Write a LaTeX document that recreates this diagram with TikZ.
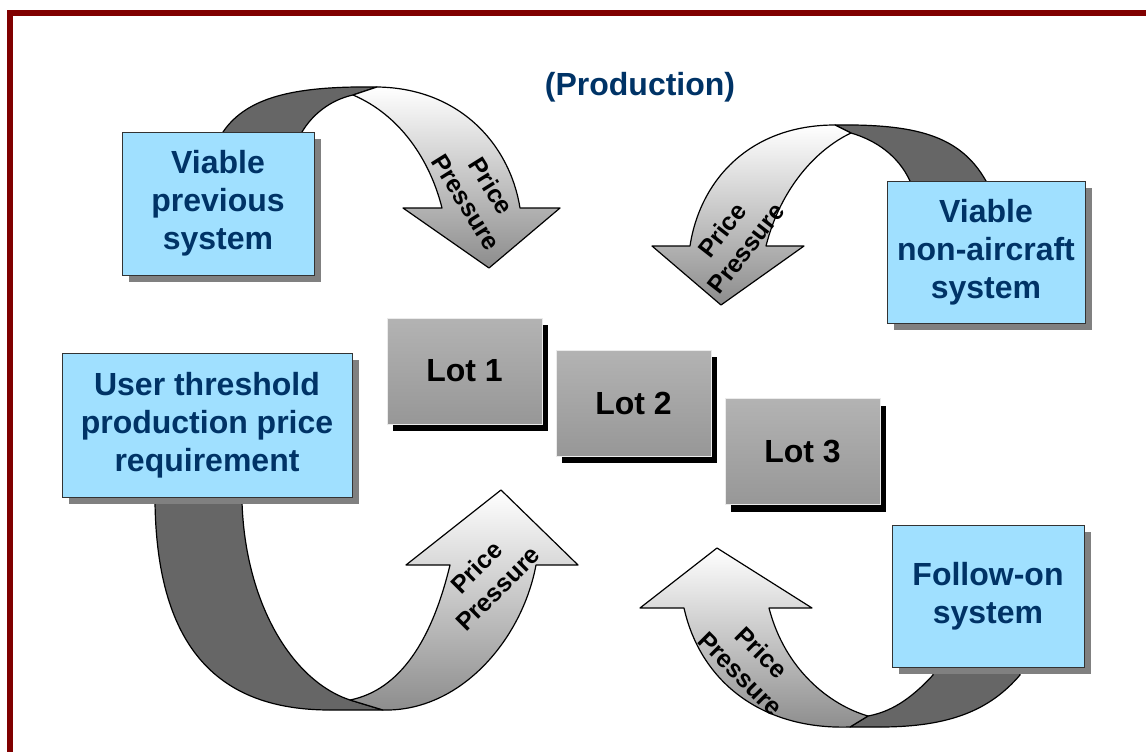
\documentclass[tikz,border=0pt]{standalone}
\usepackage{fontspec}
\setmainfont{Liberation Sans}
\usetikzlibrary{shadows}
\definecolor{framered}{HTML}{800000}
\definecolor{boxblue}{HTML}{A0E0FF}
\definecolor{navy}{HTML}{003366}
\definecolor{ribbondark}{HTML}{666666}
\definecolor{lottop}{HTML}{B3B3B3}
\definecolor{lotbot}{HTML}{979797}
\begin{document}
\begin{tikzpicture}[x=1pt,y=-1pt,
		infobox/.style={
			draw=black!80,
			fill=boxblue,
			line width=1pt,
			text=navy,
			align=center,
			inner sep=0pt,
			font=\bfseries\fontsize{32}{38}\selectfont,
			drop shadow={shadow xshift=7pt, shadow yshift=-7pt, fill=black!50, opacity=1},
		},
		lotbox/.style={
			draw=black!8,
			top color=lottop,
			bottom color=lotbot,
			minimum width=155pt,
			minimum height=106pt,
			inner sep=0pt,
			font=\bfseries\fontsize{32}{38}\selectfont,
			drop shadow={shadow xshift=6pt, shadow yshift=-7pt, fill=black, opacity=1},
		},
		back/.style={fill=ribbondark, draw=black, line width=1.2pt, line join=round},
		front/.style={top color=white, bottom color=black!45, draw=black, line width=1.2pt, line join=round},
		pricetag/.style={align=center, inner sep=0pt, font=\bfseries\fontsize{25}{30}\selectfont}]
		\useasboundingbox (0,0) rectangle (1146,752);
		\draw[framered, line width=6pt] (10,800) -- (10,13) -- (1200,13);
		
		\node[text=navy, font=\bfseries\fontsize{32}{38}\selectfont] (title) at (640,87) {(Production)};
		
		% ribbon from the previous system
		\draw[back] (223,150) -- (223,132) .. controls (248,95) and (300,86) .. (377,87) -- (353,95)
			.. controls (330,100) and (312,115) .. (302,132) -- (302,150) -- cycle;
		\draw[front] (377,87) .. controls (460,88) and (510,145) .. (520,208) -- (560,208) -- (489,268)
			-- (403,208) -- (442,208) .. controls (430,160) and (400,115) .. (353,95) -- cycle;
		\node[pricetag, rotate=-58] (tag1) at (479,194) {Price\\Pressure};
		
		% ribbon from the non-aircraft system
		\draw[back] (986,195) -- (986,181) .. controls (960,135) and (915,124) .. (835,125) -- (851,133)
			.. controls (875,140) and (898,155) .. (910,181) -- (910,195) -- cycle;
		\draw[front] (835,125) .. controls (750,125) and (700,180) .. (690,246) -- (652,246) -- (721,305)
			-- (804,246) -- (766,246) .. controls (780,190) and (815,150) .. (851,133) -- cycle;
		\node[pricetag, rotate=52] (tag2) at (734,239) {Price\\Pressure};
		
		% ribbon from the user threshold
		\draw[back] (155,490) -- (155,502) .. controls (157,650) and (220,710) .. (330,710) -- (383,710)
			-- (350,700) .. controls (290,680) and (245,600) .. (242,502) -- (242,490) -- cycle;
		\draw[front] (350,700) -- (383,710) .. controls (460,712) and (522,640) .. (536,565) -- (578,565)
			-- (501,490) -- (406,565) -- (450,565) .. controls (432,640) and (400,690) .. (350,700) -- cycle;
		\node[pricetag, rotate=45] (tag3) at (487,578) {Price\\Pressure};
		
		% ribbon from the follow-on system
		\draw[back] (933,660) -- (933,675) .. controls (910,700) and (890,712) .. (868,716) -- (850,727)
			-- (880,727) .. controls (950,727) and (990,710) .. (1020,675) -- (1020,660) -- cycle;
		\draw[front] (868,716) -- (850,727) .. controls (760,730) and (700,680) .. (684,608) -- (640,608)
			-- (717,548) -- (812,608) -- (769,608) .. controls (785,670) and (830,705) .. (868,716) -- cycle;
		\node[pricetag, rotate=-45] (tag4) at (751,663) {Price\\Pressure};
		
		\node[infobox, minimum width=192pt, minimum height=143pt] (prev) at (218,203.5) {Viable\\previous\\system};
		\node[infobox, minimum width=198pt, minimum height=142pt] (nonair) at (986,252) {Viable\\non-aircraft\\system};
		\node[infobox, minimum width=290pt, minimum height=144pt] (user) at (207,425) {User threshold\\production price\\requirement};
		\node[infobox, minimum width=192pt, minimum height=142pt] (follow) at (988,596) {Follow-on\\system};
		
		\node[lotbox] (lot1) at (464.5,371) {Lot 1};
		\node[lotbox] (lot2) at (633.5,403) {Lot 2};
		\node[lotbox] (lot3) at (802.5,451.5) {Lot 3};
	\end{tikzpicture}
\end{document}
